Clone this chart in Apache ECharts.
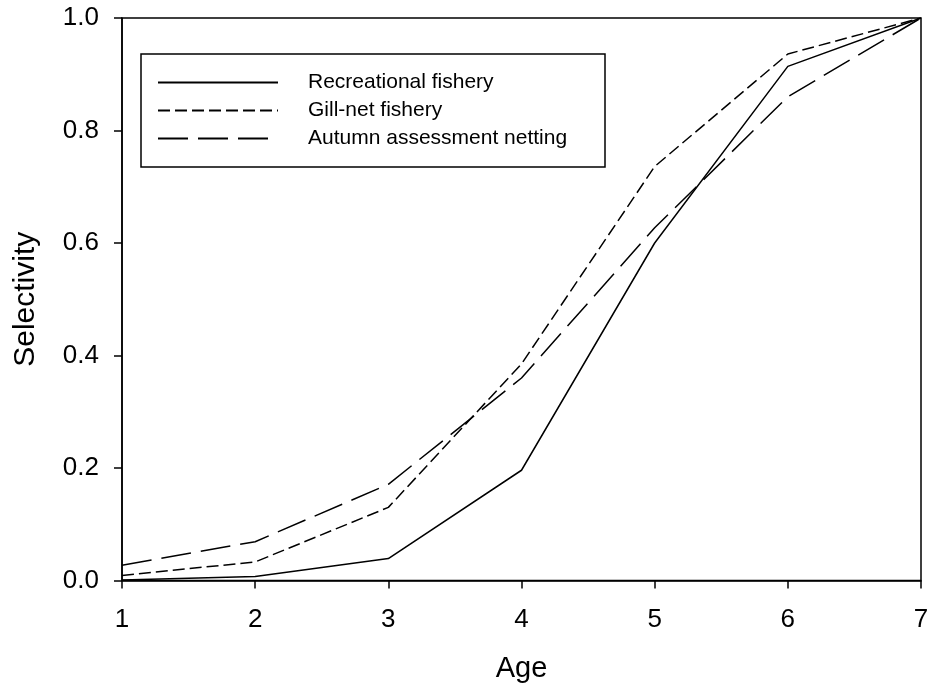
<!DOCTYPE html>
<html>
<head>
<meta charset="utf-8">
<script src="https://cdn.jsdelivr.net/npm/echarts@6/dist/echarts.min.js"></script>
<style>
  html, body { margin: 0; padding: 0; background: #fff; }
  #chart { width: 933px; height: 690px; }
</style>
</head>
<body>
<div id="chart"></div>
<script>
const ages = [1, 2, 3, 4, 5, 6, 7];
const recreational = [0.001, 0.007, 0.039, 0.196, 0.600, 0.914, 1.0];
const gillNet = [0.009, 0.033, 0.130, 0.385, 0.736, 0.936, 1.0];
const autumn = [0.027, 0.069, 0.171, 0.360, 0.627, 0.860, 1.0];
const seriesNames = ['Recreational fishery', 'Gill-net fishery', 'Autumn assessment netting'];
const yTicks = [0.0, 0.2, 0.4, 0.6, 0.8, 1.0];

const FONT = "'Liberation Sans', Arial, sans-serif";
const pairs = arr => ages.map((a, i) => [a, arr[i]]);

const chart = echarts.init(document.getElementById('chart'), null, { renderer: 'canvas' });

function line(name, data, dash) {
  return {
    name: name,
    type: 'line',
    data: pairs(data),
    symbol: 'none',
    showSymbol: false,
    animation: false,
    lineStyle: { color: '#000', width: 1.5, type: dash },
    itemStyle: { color: '#000' },
    z: 3
  };
}

chart.setOption({
  animation: false,
  backgroundColor: '#fff',
  grid: {
    left: 122, right: 12, top: 18, bottom: 109.5,
    show: true, borderColor: '#000', borderWidth: 1.5, backgroundColor: 'transparent'
  },
  xAxis: {
    type: 'value', min: 1, max: 7, interval: 1,
    name: 'Age', nameLocation: 'middle', nameGap: 74,
    nameTextStyle: { fontFamily: FONT, fontSize: 29, color: '#000' },
    axisLine: { lineStyle: { color: '#000', width: 1.5 } },
    axisTick: { show: true, length: 8, inside: false, lineStyle: { color: '#000', width: 1.5 } },
    axisLabel: { fontFamily: FONT, fontSize: 26, color: '#000', margin: 26 },
    splitLine: { show: false }
  },
  yAxis: {
    type: 'value', min: 0, max: 1, interval: 0.2,
    name: 'Selectivity', nameLocation: 'middle', nameGap: 81,
    nameTextStyle: { fontFamily: FONT, fontSize: 30, color: '#000' },
    axisLine: { show: true, lineStyle: { color: '#000', width: 1.5 } },
    axisTick: { show: true, length: 8, inside: false, lineStyle: { color: '#000', width: 1.5 } },
    axisLabel: {
      fontFamily: FONT, fontSize: 26, color: '#000', margin: 23,
      formatter: v => yTicks.find(t => Math.abs(t - v) < 1e-9) !== undefined ? v.toFixed(1) : ''
    },
    splitLine: { show: false }
  },
  legend: {
    orient: 'vertical',
    left: 152, top: 67,
    itemWidth: 120, itemHeight: 14, itemGap: 7,
    padding: 5,
    data: seriesNames,
    itemStyle: { opacity: 0 },
    textStyle: { fontFamily: FONT, fontSize: 21, color: '#000', lineHeight: 21, padding: [0, 0, 0, 25] },
    selectedMode: false
  },
  graphic: [{
    type: 'rect',
    shape: { x: 141, y: 54, width: 464, height: 113 },
    style: { fill: 'transparent', stroke: '#000', lineWidth: 1.5 },
    z: 10
  }],
  series: [
    line(seriesNames[0], recreational, 'solid'),
    line(seriesNames[1], gillNet, [12, 5]),
    line(seriesNames[2], autumn, [30, 10])
  ]
});
</script>
</body>
</html>
